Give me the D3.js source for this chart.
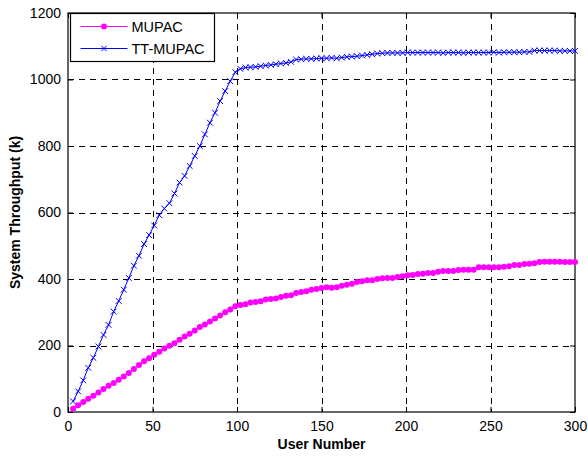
<!DOCTYPE html>
<html>
<head>
<meta charset="utf-8">
<script src="https://cdn.jsdelivr.net/npm/d3@7"></script>
<style>
  body { margin: 0; background: #fff; }
  svg { display: block; font-family: Arial, "Liberation Sans", sans-serif; }
</style>
</head>
<body>
<svg id="chart" width="588" height="456"></svg>
<script>
// user numbers (markers every 3 users)
const users = [
  3, 6, 9, 12, 15, 18, 21, 24, 27, 30, 33, 36, 39, 42, 45, 48, 51, 54, 57, 60,
  63, 66, 69, 72, 75, 78, 81, 84, 87, 90, 93, 96, 99, 102, 105, 108, 111, 114, 117, 120,
  123, 126, 129, 132, 135, 138, 141, 144, 147, 150, 153, 156, 159, 162, 165, 168, 171, 174, 177, 180,
  183, 186, 189, 192, 195, 198, 201, 204, 207, 210, 213, 216, 219, 222, 225, 228, 231, 234, 237, 240,
  243, 246, 249, 252, 255, 258, 261, 264, 267, 270, 273, 276, 279, 282, 285, 288, 291, 294, 297, 300
];

const mupac = [
  10, 20, 30, 40, 49, 59, 69, 79, 87, 97, 107, 117, 129, 141, 153, 162, 172, 181, 191, 199,
  207, 217, 227, 235, 245, 256, 263, 272, 281, 290, 300, 308, 318, 322, 324, 329, 331, 333, 338, 340,
  341, 346, 350, 351, 358, 361, 363, 368, 370, 373, 375, 374, 375, 380, 383, 386, 391, 393, 396, 396,
  400, 402, 403, 403, 406, 408, 411, 412, 415, 416, 418, 418, 422, 424, 424, 424, 427, 428, 428, 428,
  435, 435, 435, 435, 435, 437, 438, 442, 442, 445, 446, 447, 451, 452, 452, 452, 452, 451, 451, 451
];

const ttMupac = [
  32, 62, 95, 133, 163, 197, 232, 262, 302, 334, 368, 403, 440, 470, 505, 532, 561, 592, 612, 628,
  657, 690, 710, 740, 770, 800, 835, 870, 900, 935, 965, 995, 1022, 1032, 1036, 1037, 1038, 1040, 1042, 1044,
  1046, 1048, 1050, 1053, 1060, 1061, 1062, 1062, 1063, 1064, 1064, 1065, 1064, 1066, 1068, 1069, 1070, 1072, 1074, 1076,
  1078, 1079, 1080, 1080, 1080, 1080, 1081, 1081, 1081, 1081, 1081, 1081, 1081, 1080, 1081, 1081, 1081, 1080, 1081, 1081,
  1081, 1081, 1081, 1082, 1081, 1082, 1082, 1082, 1082, 1083, 1083, 1087, 1087, 1087, 1087, 1087, 1086, 1086, 1086, 1086
];

const xTicks = [0, 50, 100, 150, 200, 250, 300];
const yTicks = [0, 200, 400, 600, 800, 1000, 1200];
const seriesNames = ['MUPAC', 'TT-MUPAC'];

const margin = { top: 13, right: 13, bottom: 44, left: 68 };
const svgEl = d3.select('#chart');
const width = 588 - margin.left - margin.right;
const height = 456 - margin.top - margin.bottom;

const g = svgEl.append('g')
  .attr('transform', `translate(${margin.left},${margin.top})`);

const x = d3.scaleLinear().domain([0, 300]).range([0, width]);
const y = d3.scaleLinear().domain([0, 1200]).range([height, 0]);

// dashed grid
g.append('g').selectAll('line')
  .data(xTicks.slice(1, -1))
  .join('line')
  .attr('x1', d => Math.round(x(d)) + 0.5).attr('x2', d => Math.round(x(d)) + 0.5)
  .attr('y1', 0).attr('y2', height)
  .attr('stroke', '#000').attr('stroke-dasharray', '6,5');

g.append('g').selectAll('line')
  .data(yTicks.slice(1, -1))
  .join('line')
  .attr('y1', d => Math.round(y(d)) + 0.5).attr('y2', d => Math.round(y(d)) + 0.5)
  .attr('x1', 0).attr('x2', width)
  .attr('stroke', '#000').attr('stroke-dasharray', '6,5');

// axes with inward ticks, MATLAB style
const fmt = d3.format('d');
const axisFont = g => g.selectAll('text').style('font-size', '14px').attr('fill', '#000');
g.append('g')
  .attr('transform', `translate(0,${height})`)
  .call(d3.axisBottom(x).tickValues(xTicks).tickFormat(fmt).tickSize(-5).tickPadding(9).tickSizeOuter(0))
  .call(axisFont)
  .call(a => a.select('.domain').remove());
g.append('g')
  .call(d3.axisLeft(y).tickValues(yTicks).tickFormat(fmt).tickSize(-5).tickPadding(7).tickSizeOuter(0))
  .call(axisFont)
  .call(a => a.select('.domain').remove());
g.append('g')
  .call(d3.axisTop(x).tickValues(xTicks).tickSize(-5).tickFormat('').tickSizeOuter(0))
  .call(a => a.select('.domain').remove());
g.append('g')
  .attr('transform', `translate(${width},0)`)
  .call(d3.axisRight(y).tickValues(yTicks).tickSize(-5).tickFormat('').tickSizeOuter(0))
  .call(a => a.select('.domain').remove());

// box
g.append('rect')
  .attr('x', 0).attr('y', 0).attr('width', width).attr('height', height)
  .attr('fill', 'none').attr('stroke', '#000').attr('stroke-width', 1.2);

const line = d3.line().x(d => x(d[0])).y(d => y(d[1]));
const mupacPts = users.map((u, i) => [u, mupac[i]]);
const ttPts = users.map((u, i) => [u, ttMupac[i]]);

const cross = (sel, s) => sel.append('path')
  .attr('d', `M${-s},${-s}L${s},${s}M${-s},${s}L${s},${-s}`)
  .attr('stroke', '#0000ff').attr('stroke-width', 1).attr('fill', 'none');

// TT-MUPAC
g.append('path').datum(ttPts)
  .attr('d', line).attr('fill', 'none').attr('stroke', '#0000ff').attr('stroke-width', 1);
g.append('g').selectAll('g')
  .data(ttPts).join('g')
  .attr('transform', d => `translate(${x(d[0])},${y(d[1])})`)
  .each(function () { cross(d3.select(this), 2.9); });

// MUPAC
g.append('path').datum(mupacPts)
  .attr('d', line).attr('fill', 'none').attr('stroke', '#ff00ff').attr('stroke-width', 1);
g.append('g').selectAll('circle')
  .data(mupacPts).join('circle')
  .attr('cx', d => x(d[0])).attr('cy', d => y(d[1]))
  .attr('r', 3).attr('fill', '#ff00ff');

// legend
const legend = svgEl.append('g').attr('transform', 'translate(70.5,13.5)');
legend.append('rect')
  .attr('width', 144).attr('height', 48)
  .attr('fill', '#fff').attr('stroke', '#000').attr('stroke-width', 1.2);
const colors = ['#ff00ff', '#0000ff'];
seriesNames.forEach((name, i) => {
  const row = legend.append('g').attr('transform', `translate(0,${13 + i * 22})`);
  row.append('line').attr('x1', 10).attr('x2', 57).attr('stroke', colors[i]).attr('stroke-width', 1);
  if (i === 0) {
    row.append('circle').attr('cx', 33.5).attr('r', 3).attr('fill', colors[i]);
  } else {
    cross(row.append('g').attr('transform', 'translate(33.5,0)'), 2.6);
  }
  row.append('text').attr('x', 61).attr('dy', '0.36em')
    .style('font-size', '14.5px').attr('fill', '#000').text(name);
});

// axis titles
svgEl.append('text')
  .attr('x', margin.left + width / 2).attr('y', 449)
  .attr('text-anchor', 'middle').style('font-size', '14px').style('font-weight', 'bold')
  .text('User Number');
svgEl.append('text')
  .attr('transform', `translate(20,${margin.top + height / 2}) rotate(-90)`)
  .attr('text-anchor', 'middle').style('font-size', '14px').style('font-weight', 'bold')
  .text('System Throughput (k)');
</script>
</body>
</html>
